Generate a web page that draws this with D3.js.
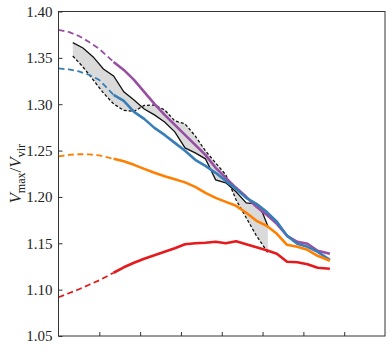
<!DOCTYPE html>
<html>
<head>
<meta charset="utf-8">
<script src="https://cdn.jsdelivr.net/npm/d3@7"></script>
<style>
  body { margin: 0; background: #fff; }
  svg { display: block; }
  .tick text { font-family: "Liberation Serif", "DejaVu Serif", serif; font-size: 15px; fill: #222; }
  .tick line { stroke: #333; }
</style>
</head>
<body>
<svg id="chart" width="391" height="351"></svg>
<script>
// shared x grid for the four curves (dashed up to dashEnd, solid after)
var xGrid = [0, 0.25, 0.5, 0.75, 1.0, 1.35, 1.6, 1.85, 2.1, 2.35, 2.6, 2.85, 3.1, 3.35,
             3.6, 3.85, 4.1, 4.35, 4.6, 4.85, 5.1, 5.35, 5.6, 5.85, 6.1, 6.35, 6.65];
var dashEnd = 5; // index of last dashed point

var purpleVals = [1.3801, 1.3779, 1.3736, 1.3671, 1.3596, 1.3456, 1.3370, 1.3262, 1.3133, 1.3003,
                  1.2885, 1.2777, 1.2669, 1.2561, 1.2454, 1.2314, 1.2206, 1.2098, 1.2001, 1.1893,
                  1.1807, 1.1710, 1.1581, 1.1516, 1.1495, 1.1419, 1.1387];
var blueVals = [1.3386, 1.3375, 1.3353, 1.3316, 1.3262, 1.3100, 1.3036, 1.2917, 1.2842, 1.2745,
                1.2669, 1.2583, 1.2497, 1.2400, 1.2335, 1.2260, 1.2173, 1.2087, 1.1990, 1.1926,
                1.1839, 1.1732, 1.1581, 1.1495, 1.1462, 1.1408, 1.1322];
var orangeVals = [1.2437, 1.2454, 1.2461, 1.2459, 1.2448, 1.2411, 1.2384, 1.2346, 1.2303, 1.2260,
                  1.2222, 1.2190, 1.2157, 1.2109, 1.2044, 1.1990, 1.1947, 1.1904, 1.1829, 1.1742,
                  1.1689, 1.1602, 1.1484, 1.1462, 1.1430, 1.1365, 1.1311];
var redVals = [1.0918, 1.0961, 1.1004, 1.1053, 1.1101, 1.1182, 1.1241, 1.1290, 1.1333, 1.1371,
               1.1408, 1.1446, 1.1489, 1.1500, 1.1505, 1.1516, 1.1500, 1.1522, 1.1489, 1.1457,
               1.1425, 1.1387, 1.1301, 1.1295, 1.1274, 1.1236, 1.1225];

// shaded band: solid edge and dashed edge
var bandX = [0.35, 0.6, 0.85, 1.1, 1.35, 1.6, 1.85, 2.1, 2.35, 2.6, 2.85, 3.1, 3.35, 3.6,
             3.85, 4.1, 4.35, 4.6, 4.85, 5.0, 5.13];
var bandSolid = [1.3664, 1.3607, 1.3510, 1.3380, 1.3305, 1.3133, 1.3046, 1.2949, 1.2885, 1.2809,
                 1.2702, 1.2529, 1.2475, 1.2411, 1.2184, 1.2152, 1.2055, 1.1936, 1.1926, 1.1829, 1.1683];
var bandDashed = [1.3520, 1.3402, 1.3262, 1.3122, 1.3003, 1.2933, 1.2922, 1.2987, 1.2992, 1.2939,
                  1.2820, 1.2788, 1.2658, 1.2497, 1.2367, 1.2238, 1.1969, 1.1775, 1.1581, 1.1484, 1.1398];

var yTicks = [1.05, 1.10, 1.15, 1.20, 1.25, 1.30, 1.35, 1.40];
var xTicks = [1, 2, 3, 4, 5, 6, 7];

var series = [
    {vals: purpleVals, color: "#984ea3"},
    {vals: blueVals, color: "#377eb8"},
    {vals: orangeVals, color: "#ff7f00"},
    {vals: redVals, color: "#e41a1c"}
];

var svg = d3.select("#chart");
var margin = {top: 11.5, right: 6, bottom: 15, left: 58.5};
var width = 391 - margin.left - margin.right;
var height = 351 - margin.top - margin.bottom;

var g = svg.append("g")
    .attr("transform", "translate(" + margin.left + "," + margin.top + ")");

var x = d3.scaleLinear().domain([0, 8]).range([0, width]);
var y = d3.scaleLinear().domain([1.05, 1.40]).range([height, 0]);

// band
var bandData = bandX.map(function(d, i) {
    return {x: d, lo: bandDashed[i], hi: bandSolid[i]};
});

g.append("path")
    .datum(bandData)
    .attr("fill", "#dadada")
    .attr("d", d3.area()
        .x(function(d) { return x(d.x); })
        .y0(function(d) { return y(d.lo); })
        .y1(function(d) { return y(d.hi); }));

var bandLine = function(key) {
    return d3.line()
        .x(function(d) { return x(d.x); })
        .y(function(d) { return y(d[key]); });
};

g.append("path")
    .datum(bandData)
    .attr("fill", "none")
    .attr("stroke", "#111")
    .attr("stroke-width", 1.3)
    .attr("d", bandLine("hi"));

g.append("path")
    .datum(bandData)
    .attr("fill", "none")
    .attr("stroke", "#111")
    .attr("stroke-width", 1.3)
    .attr("stroke-dasharray", "3,2")
    .attr("d", bandLine("lo"));

// curves
var line = d3.line()
    .x(function(d) { return x(d.x); })
    .y(function(d) { return y(d.v); });

series.forEach(function(s) {
    var pts = xGrid.map(function(d, i) { return {x: d, v: s.vals[i]}; });

    g.append("path")
        .datum(pts.slice(0, dashEnd + 1))
        .attr("fill", "none")
        .attr("stroke", s.color)
        .attr("stroke-width", 1.8)
        .attr("stroke-dasharray", "6,3.5")
        .attr("d", line);

    g.append("path")
        .datum(pts.slice(dashEnd))
        .attr("fill", "none")
        .attr("stroke", s.color)
        .attr("stroke-width", 2.6)
        .attr("stroke-linejoin", "round")
        .attr("d", line);
});

// axes (inward ticks)
var yAxis = d3.axisLeft(y)
    .tickValues(yTicks)
    .tickSize(-4)
    .tickPadding(6)
    .tickFormat(d3.format(".2f"));

var yg = g.append("g").call(yAxis);
yg.select(".domain").remove();

var xAxis = d3.axisBottom(x)
    .tickValues(xTicks)
    .tickSize(-4)
    .tickFormat("");

var xg = g.append("g")
    .attr("transform", "translate(0," + height + ")")
    .call(xAxis);
xg.select(".domain").remove();

g.append("rect")
    .attr("width", width)
    .attr("height", height)
    .attr("fill", "none")
    .attr("stroke", "#333")
    .attr("stroke-width", 1);

// y label
var lab = svg.append("text")
    .attr("transform", "translate(21," + (margin.top + height / 2) + ") rotate(-90)")
    .attr("text-anchor", "middle")
    .style("font-family", "'Liberation Serif', 'DejaVu Serif', serif")
    .style("font-size", "17px")
    .style("fill", "#222");

lab.append("tspan").style("font-style", "italic").text("V");
lab.append("tspan").attr("dy", 4).style("font-size", "12px").text("max");
lab.append("tspan").attr("dy", -4).text("/");
lab.append("tspan").style("font-style", "italic").text("V");
lab.append("tspan").attr("dy", 4).style("font-size", "12px").text("vir");
</script>
</body>
</html>
